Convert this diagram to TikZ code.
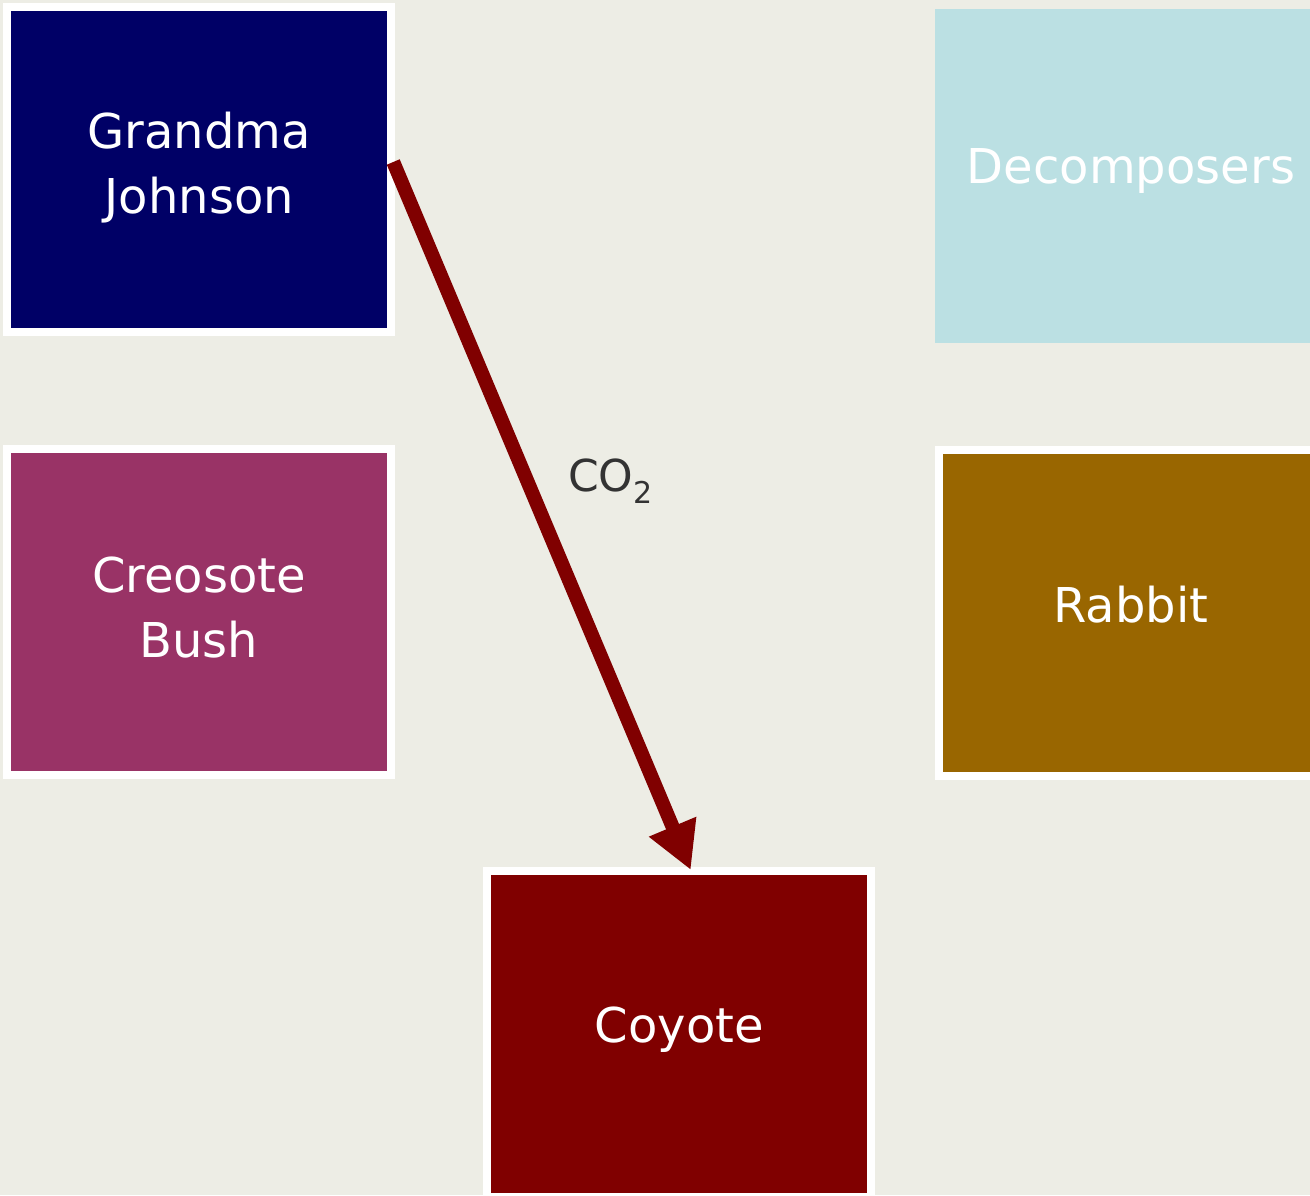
\documentclass[tikz,border=0pt]{standalone}
\usepackage{fontspec}
\setmainfont{DejaVu Sans}
\usetikzlibrary{arrows.meta}
\definecolor{bgc}{HTML}{EDEDE5}
\definecolor{navyc}{HTML}{000066}
\definecolor{plumc}{HTML}{993366}
\definecolor{skyc}{HTML}{BBE0E3}
\definecolor{ochrec}{HTML}{996600}
\definecolor{maroonc}{HTML}{800000}
\definecolor{labc}{HTML}{333333}
\newcommand{\lift}[2]{\raisebox{#1}[0pt][0pt]{#2}}
\begin{document}
\begin{tikzpicture}[x=1pt,y=-1pt,
  box/.style={rectangle, draw=white, line width=8pt, inner sep=0pt,
    minimum width=384pt, minimum height=326pt, text=white, align=center,
    font=\fontsize{48}{65}\selectfont},
  flow/.style={draw=maroonc, line width=14pt,
    -{Triangle[length=47pt,width=48pt]}},
  note/.style={text=labc, inner sep=0pt, font=\fontsize{44}{50}\selectfont}]
\useasboundingbox (0,0) rectangle (1310,1195);
\fill[bgc] (0,0) rectangle (1310,1195);
\clip (0,0) rectangle (1310,1195);
\node[box, fill=navyc, minimum height=325pt] (g) at (199.25,169.5) {\lift{-11pt}{Grandma}\\\lift{-11pt}{Johnson}};
\node[box, fill=plumc] (cb) at (199,612) {\lift{-12.5pt}{Creosote}\\\lift{-12.5pt}{Bush}};
\node[box, fill=skyc, draw=skyc] (d) at (1131,176) {\lift{-7pt}{Decomposers}};
\node[box, fill=ochrec] (r) at (1131,613) {\lift{-9pt}{Rabbit}};
\node[box, fill=maroonc] (c) at (679.25,1034) {\lift{-8pt}{Coyote}};
\draw[flow] ([xshift=-2pt,yshift=7.5pt]g.east) -- ([xshift=11.5pt,yshift=-3pt]c.north);
\node[note, anchor=base west] (co) at (568,491) {CO\raisebox{-12pt}{\fontsize{30}{30}\selectfont 2}};
\end{tikzpicture}
\end{document}
